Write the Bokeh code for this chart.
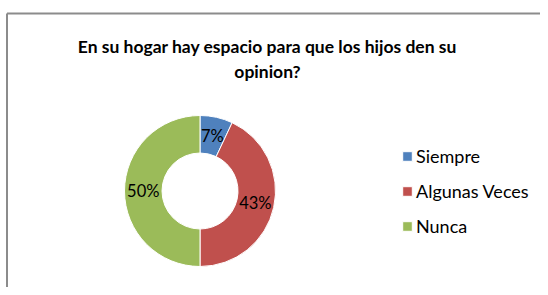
import numpy as np
from bokeh.plotting import figure
from bokeh.models import ColumnDataSource, Range1d, Legend, LegendItem
from bokeh.core.properties import value
from bokeh.embed import file_html
from bokeh.resources import INLINE

# ---- data ----
categories = ["Siempre", "Algunas Veces", "Nunca"]
percents = [7, 43, 50]
colors = ["#4F81BD", "#C0504D", "#9BBB59"]
title_lines = ["En su hogar hay espacio para que los hijos den su", "opinion?"]

W, H = 540, 287
p = figure(width=W, height=H, output_backend="svg", toolbar_location=None,
           x_range=Range1d(0, W), y_range=Range1d(0, H), min_border=0)
p.axis.visible = False
p.grid.visible = False
p.outline_line_color = None
p.background_fill_color = "white"
p.border_fill_color = "white"

# chart-area border (left and top visible)
p.line(x=[6.5, 6.5], y=[0, 274], line_color="#8c8c8c", line_width=2)
p.line(x=[6.5, W], y=[274, 274], line_color="#8c8c8c", line_width=2)

# donut
cx, cy = 199.5, 96.5
r_out, r_in = 75.5, 38
frac = np.array(percents, dtype=float) / np.sum(percents)
cum = np.concatenate([[0], np.cumsum(frac)])
start = np.pi / 2 - 2 * np.pi * cum[:-1]
end = np.pi / 2 - 2 * np.pi * cum[1:]
src = ColumnDataSource(dict(cat=categories, start=start, end=end, color=colors,
                            x=[cx] * 3, y=[cy] * 3))
wedges = p.annular_wedge(x="x", y="y", inner_radius=r_in, outer_radius=r_out,
                         start_angle="start", end_angle="end", direction="clock",
                         fill_color="color", line_color="white", line_width=1,
                         source=src)

# data labels
mid = (start + end) / 2
rm = (r_in + r_out) / 2
lbl = ColumnDataSource(dict(x=cx + rm * np.cos(mid), y=cy + rm * np.sin(mid),
                            t=[f"{v}%" for v in percents]))
p.text(x="x", y="y", text="t", source=lbl, text_align="center",
       text_baseline="middle", text_font=value("Lato"), text_font_size="16.5px",
       text_color="black")

# title
tsrc = ColumnDataSource(dict(x=[267, 267], y=[241, 216], t=title_lines))
p.text(x="x", y="y", text="t", source=tsrc, text_align="center",
       text_baseline="alphabetic", text_font=value("Lato"), text_font_size="17.5px",
       text_font_style="bold", text_color="black")

# legend
items = [LegendItem(label=c, renderers=[wedges], index=i) for i, c in enumerate(categories)]
legend = Legend(items=items, location=(401, 50), glyph_width=12, glyph_height=12,
                label_text_font="Lato", label_text_font_size="18px",
                label_text_color="black", label_standoff=3, spacing=13,
                label_height=22, padding=0, margin=0, border_line_color=None,
                background_fill_alpha=0)
p.add_layout(legend, "center")

open("out.html", "w").write(file_html(p, INLINE))
